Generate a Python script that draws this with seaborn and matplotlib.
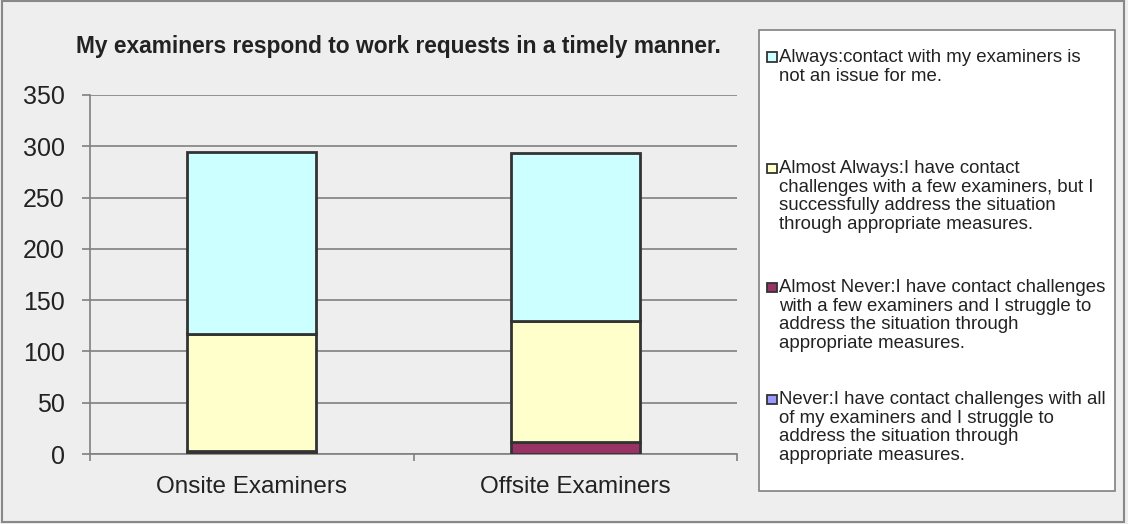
import matplotlib
matplotlib.use("Agg")
import matplotlib.pyplot as plt
from matplotlib.patches import Rectangle
import seaborn as sns

# Survey counts per response, stacked from the bottom
categories = ["Onsite Examiners", "Offsite Examiners"]
never = [0, 0]
almost_never = [3, 12]
almost_always = [114, 118]
always = [177, 163]

series_labels = [
    "Always:contact with my examiners is\nnot an issue for me.",
    "Almost Always:I have contact\nchallenges with a few examiners, but I\nsuccessfully address the situation\nthrough appropriate measures.",
    "Almost Never:I have contact challenges\nwith a few examiners and I struggle to\naddress the situation through\nappropriate measures.",
    "Never:I have contact challenges with all\nof my examiners and I struggle to\naddress the situation through\nappropriate measures.",
]
series_colors = ["#CCFFFF", "#FFFFCC", "#993366", "#9999FF"]
title = "My examiners respond to work requests in a timely manner."
yticks = [0, 50, 100, 150, 200, 250, 300, 350]

sns.set_theme(style="white")
plt.rcParams["font.family"] = ["Liberation Sans", "DejaVu Sans"]

W, H = 1128, 524
BG = "#EEEEEE"
fig = plt.figure(figsize=(W / 100, H / 100), dpi=100, facecolor=BG)


def fx(px):
    return px / W


def fy(py):
    return 1 - py / H


ax = fig.add_axes([fx(90), fy(454), fx(737) - fx(90), fy(95) - fy(454)])
ax.set_facecolor(BG)

# stacked bars, bottom to top: Never, Almost Never, Almost Always, Always
stack = [never, almost_never, almost_always, always]
stack_colors = series_colors[::-1]
base = [0.0] * len(categories)
for vals, col in zip(stack, stack_colors):
    sns.barplot(x=categories, y=vals, bottom=base, color=col, width=0.4,
                edgecolor="#333333", linewidth=2.0, saturation=1, ax=ax,
                zorder=3)
    base = [b + v for b, v in zip(base, vals)]

ax.set_ylim(0, 350)
ax.set_xlim(-0.5, 1.5)
ax.set_yticks(yticks)
ax.set_yticklabels([str(t) for t in yticks], fontsize=18, color="#222222")
ax.tick_params(axis="y", length=6, width=1.2, color="#808080", pad=12, left=True)
ax.set_xticks([0, 1])
ax.set_xticklabels(categories, fontsize=17.5, color="#222222")
ax.set_xticks([-0.5, 0.5, 1.5], minor=True)
ax.tick_params(axis="x", which="major", length=0, pad=16)
ax.tick_params(axis="x", which="minor", length=5, width=1.2, color="#808080",
               bottom=True)
ax.grid(axis="y", color="#808080", linewidth=1.2, zorder=0)
ax.set_axisbelow(True)
for side in ["top", "right"]:
    ax.spines[side].set_visible(False)
for side in ["left", "bottom"]:
    ax.spines[side].set_color("#808080")
    ax.spines[side].set_linewidth(1.2)
ax.set_xlabel("")
ax.set_ylabel("")

fig.text(fx(398), fy(53), title, ha="center", va="baseline", fontsize=16.4,
         fontweight="bold", color="#222222")

# outer frame
fig.patches.append(Rectangle((fx(2), fy(522)), fx(1124) - fx(2), fy(1) - fy(522),
                             transform=fig.transFigure, facecolor="none",
                             edgecolor="#888888", linewidth=1.5))

# legend box
fig.patches.append(Rectangle((fx(759), fy(491)), fx(1115) - fx(759), fy(30) - fy(491),
                             transform=fig.transFigure, facecolor="white",
                             edgecolor="#808080", linewidth=1.2, zorder=1))
entry_centers = [57, 168, 287, 399]
for label, col, cy in zip(series_labels, series_colors, entry_centers):
    fig.patches.append(Rectangle((fx(767), fy(cy + 5)), fx(9.5), fy(0) - fy(9.5),
                                 transform=fig.transFigure, facecolor=col,
                                 edgecolor="#333333", linewidth=1.3, zorder=2))
    fig.text(fx(779), fy(cy - 8), label, ha="left", va="top", fontsize=13.4,
             color="#222222", linespacing=1.13, zorder=3)

fig.savefig("out.png", dpi=100, facecolor=BG)
